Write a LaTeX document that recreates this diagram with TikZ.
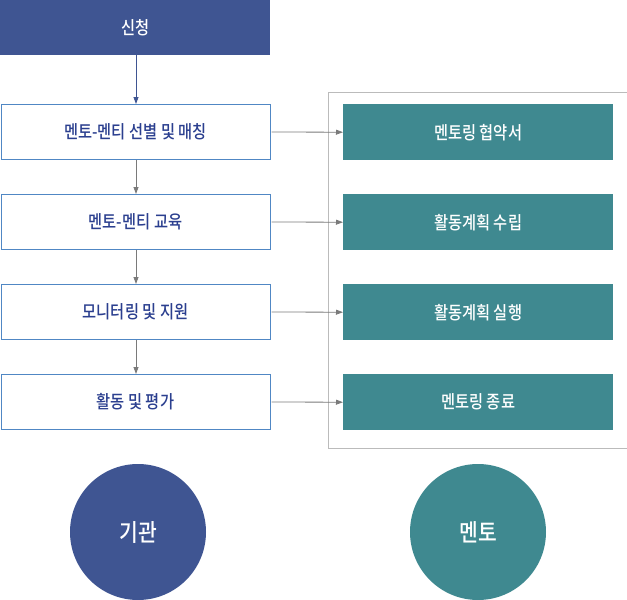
\documentclass[tikz,border=0pt]{standalone}
\usepackage{fontspec}
\setmainfont{Noto Sans CJK KR}[BoldFont={Noto Sans CJK KR Medium}, FakeStretch=0.85]
\usetikzlibrary{arrows.meta}
\definecolor{navy}{HTML}{3F5592}
\definecolor{teal2}{HTML}{3F8990}
\definecolor{boxline}{HTML}{5087C4}
\definecolor{txtblue}{HTML}{2B3F8F}
\definecolor{arrgray}{HTML}{7A7A7A}
\definecolor{framegray}{HTML}{BBBBBB}
\tikzset{
  headbox/.style={fill=navy, draw=none, minimum width=270pt, minimum height=55pt, inner sep=0pt, text=white, font=\fontsize{18}{21}\selectfont\bfseries, anchor=north west},
  stepbox/.style={fill=white, draw=boxline, line width=1pt, minimum width=269pt, minimum height=55pt, inner sep=0pt, text=txtblue, font=\fontsize{18}{21}\selectfont\bfseries, anchor=north west},
  tealbox/.style={fill=teal2, draw=none, minimum width=270pt, minimum height=56pt, inner sep=0pt, text=white, font=\fontsize{18}{21}\selectfont\bfseries, anchor=north west},
  roundnode/.style={circle, minimum size=136pt, inner sep=0pt, text=white, font=\fontsize{24}{28}\selectfont\bfseries},
  conn/.style={draw=arrgray, line width=0.8pt, -{Triangle[length=7pt,width=5pt]}},
  connblue/.style={draw=navy, line width=0.8pt, -{Triangle[length=7pt,width=5pt]}},
}
\begin{document}
\begin{tikzpicture}[x=1pt,y=-1pt]
\useasboundingbox (0,0) rectangle (627,600);
\node[headbox] (h) at (0,0) {신청};
\node[stepbox] (s1) at (0.5,104) {멘토-멘티 선별 및 매칭};
\node[stepbox] (s2) at (0.5,194) {멘토-멘티 교육};
\node[stepbox] (s3) at (0.5,284) {모니터링 및 지원};
\node[stepbox] (s4) at (0.5,374) {활동 및 평가};
\node[draw=framegray, line width=1pt, minimum width=299pt, minimum height=356pt, inner sep=0pt, anchor=north west] (frame) at (327.5,91.5) {};
\node[tealbox] (t1) at (343,104) {멘토링 협약서};
\node[tealbox] (t2) at (343,194) {활동계획 수립};
\node[tealbox] (t3) at (343,284) {활동계획 실행};
\node[tealbox] (t4) at (343,374) {멘토링 종료};
\node[roundnode, fill=navy] (c1) at (138,532) {기관};
\node[roundnode, fill=teal2] (c2) at (478,532) {멘토};
\draw[connblue] (h.south -| 136,0) -- (s1.north -| 136,0);
\draw[conn] (s1.south -| 136,0) -- (s2.north -| 136,0);
\draw[conn] (s2.south -| 136,0) -- (s3.north -| 136,0);
\draw[conn] (s3.south -| 136,0) -- (s4.north -| 136,0);
\draw[conn] ([xshift=1pt]s1.east) -- (t1.west);
\draw[conn] ([xshift=1pt]s2.east) -- (t2.west);
\draw[conn] ([xshift=1pt]s3.east) -- (t3.west);
\draw[conn] ([xshift=1pt]s4.east) -- (t4.west);
\end{tikzpicture}
\end{document}
